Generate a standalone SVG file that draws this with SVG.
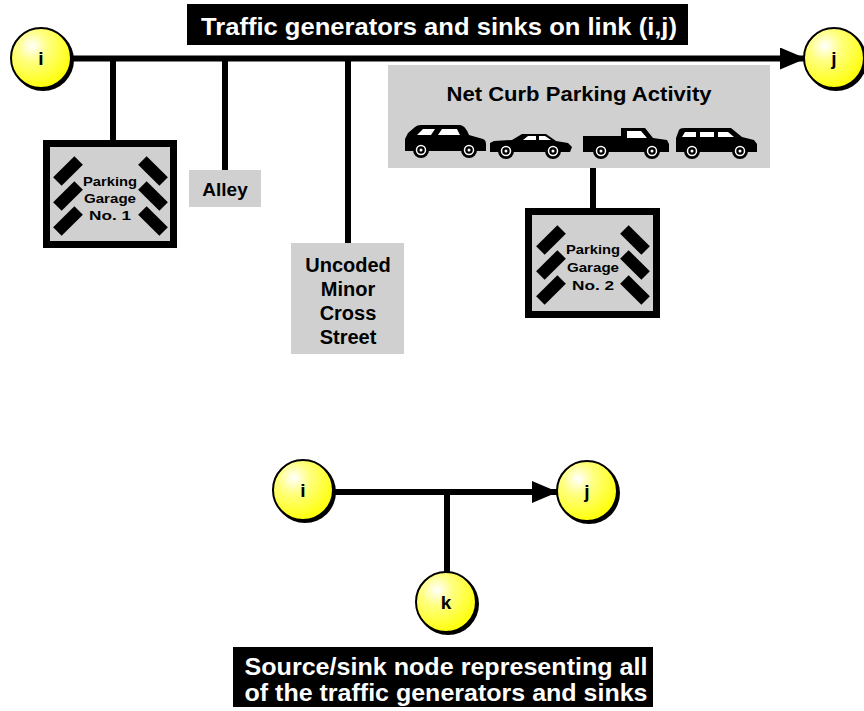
<svg xmlns="http://www.w3.org/2000/svg" width="864" height="711" viewBox="0 0 864 711">
  <defs>
    <radialGradient id="ball" cx="0.35" cy="0.3" r="0.75">
      <stop offset="0" stop-color="#ffffff"/>
      <stop offset="0.35" stop-color="#ffff80"/>
      <stop offset="1" stop-color="#ffff00"/>
    </radialGradient>
    <marker id="arrow" viewBox="0 0 26 22" refX="25" refY="11" markerWidth="26" markerHeight="22" markerUnits="userSpaceOnUse" orient="auto">
      <path d="M0,0 L26,11 L0,22 Z" fill="#000"/>
    </marker>
    <!-- hatch marks of a garage block -->
    <g id="stripesL">
      <rect x="-15" y="-6" width="30" height="12" transform="rotate(-45)" fill="#000"/>
    </g>
    <g id="stripesR">
      <rect x="-15" y="-6" width="30" height="12" transform="rotate(45)" fill="#000"/>
    </g>
    <g id="wheel">
      <circle r="8" fill="#000"/>
      <circle r="4.5" fill="none" stroke="#fff" stroke-width="1.5"/>
      <circle r="1.5" fill="#fff"/>
    </g>
  </defs>
  <style>
    .node circle.shade { fill: #000; }
    .node circle.face { fill: url(#ball); stroke: #000; stroke-width: 2; }
    .lbl { font-family: "Liberation Sans", Arial, sans-serif; font-weight: bold; text-anchor: middle; }
    .nodelbl { font-size: 19px; fill: #000; }
    .wt { fill: #fff; }
    .box { fill: #d0d0d0; }
    .link { stroke: #000; stroke-width: 6; fill: none; }
    .gtxt { font-size: 13px; }
  </style>

  <!-- heading -->
  <g id="title-top">
    <rect x="187" y="4" width="501" height="41" fill="#000"/>
    <text class="lbl wt" x="439" y="35" font-size="23" textLength="476" lengthAdjust="spacingAndGlyphs">Traffic generators and sinks on link (i,j)</text>
  </g>

  <!-- connectors -->
  <g id="connectors">
    <line class="link" x1="72" y1="58.5" x2="805" y2="58.5" marker-end="url(#arrow)"/>
    <line class="link" x1="113" y1="58" x2="113" y2="141"/>
    <line class="link" x1="225" y1="58" x2="225" y2="171"/>
    <line class="link" x1="348" y1="58" x2="348" y2="244"/>
    <line class="link" x1="593" y1="167" x2="593" y2="209"/>
    <line class="link" x1="334" y1="492" x2="557" y2="492" marker-end="url(#arrow)"/>
    <line class="link" x1="447" y1="492" x2="447" y2="573"/>
  </g>

  <!-- top nodes -->
  <g id="node-i-top" class="node">
    <circle class="shade" cx="43" cy="60" r="31"/>
    <circle class="face" cx="41" cy="58" r="30"/>
    <text class="lbl nodelbl" x="41" y="65">i</text>
  </g>
  <g id="node-j-top" class="node">
    <circle class="shade" cx="836" cy="60" r="31"/>
    <circle class="face" cx="834" cy="58" r="30"/>
    <text class="lbl nodelbl" x="834" y="65">j</text>
  </g>

  <!-- parking garage 1 -->
  <g id="garage-1">
    <rect x="43" y="140" width="134" height="108" fill="#000"/>
    <rect x="50" y="147" width="120" height="94" class="box"/>
    <use href="#stripesL" x="68" y="171"/>
    <use href="#stripesL" x="68" y="196"/>
    <use href="#stripesL" x="68" y="221"/>
    <use href="#stripesR" x="153" y="171"/>
    <use href="#stripesR" x="153" y="196"/>
    <use href="#stripesR" x="153" y="221"/>
    <text class="lbl gtxt" x="110" y="186" textLength="54" lengthAdjust="spacingAndGlyphs">Parking</text>
    <text class="lbl gtxt" x="110" y="203" textLength="52" lengthAdjust="spacingAndGlyphs">Garage</text>
    <text class="lbl gtxt" x="110" y="220" textLength="42" lengthAdjust="spacingAndGlyphs">No. 1</text>
  </g>

  <!-- alley -->
  <g id="alley">
    <rect x="189" y="170" width="72" height="37" class="box"/>
    <text class="lbl" x="225" y="196" font-size="19">Alley</text>
  </g>

  <!-- minor cross street -->
  <g id="cross-street">
    <rect x="291" y="243" width="113" height="111" class="box"/>
    <text class="lbl" x="348" y="272" font-size="20">Uncoded</text>
    <text class="lbl" x="348" y="296" font-size="20">Minor</text>
    <text class="lbl" x="348" y="320" font-size="20">Cross</text>
    <text class="lbl" x="348" y="344" font-size="20">Street</text>
  </g>

  <!-- curb parking -->
  <g id="curb-parking">
    <rect x="388" y="65" width="382" height="103" class="box"/>
    <text class="lbl" x="579" y="101" font-size="21" textLength="265" lengthAdjust="spacingAndGlyphs">Net Curb Parking Activity</text>
    <!-- sport utility -->
    <g transform="translate(405,125)">
      <path d="M0,14 L3,8 L10,2 Q12,0 16,0 L55,0 Q60,0 64,10 L78,14 Q81,15 81,19 L81,26 L0,26 Z" fill="#000"/>
      <path d="M12,10 L18,4 L30,4 L26,10 Z M33,10 L37,4 L52,4 L55,10 Z" fill="#fff"/>
      <use href="#wheel" x="16" y="25"/>
      <use href="#wheel" x="64" y="25"/>
    </g>
    <!-- sedan -->
    <g transform="translate(490,133)">
      <path d="M0,10 L4,8 L22,7 L32,1 L56,1 L66,8 L78,10 L82,14 L80,19 L0,19 Z" fill="#000"/>
      <path d="M33,7 L38,3 L46,3 L46,7 Z M49,7 L49,3 L55,3 L61,7 Z" fill="#fff"/>
      <use href="#wheel" x="16" y="18"/>
      <use href="#wheel" x="63" y="18"/>
    </g>
    <!-- pickup -->
    <g transform="translate(583,128)">
      <path d="M0,8 L38,8 L38,0 L62,0 L70,10 L84,12 L86,16 L86,24 L0,24 Z" fill="#000"/>
      <path d="M44,3 L58,3 L64,10 L44,10 Z" fill="#fff"/>
      <use href="#wheel" x="18" y="23"/>
      <use href="#wheel" x="69" y="23"/>
    </g>
    <!-- station wagon -->
    <g transform="translate(676,128)">
      <path d="M0,10 L3,2 Q4,0 8,0 L55,0 L66,9 L78,12 L81,16 L81,24 L0,24 Z" fill="#000"/>
      <path d="M6,9 L9,4 L20,4 L20,9 Z M24,9 L24,4 L38,4 L38,9 Z M42,9 L42,4 L52,4 L58,9 Z" fill="#fff"/>
      <use href="#wheel" x="16" y="23"/>
      <use href="#wheel" x="64" y="23"/>
    </g>
  </g>

  <!-- parking garage 2 -->
  <g id="garage-2">
    <rect x="525" y="208" width="135" height="110" fill="#000"/>
    <rect x="532" y="215" width="121" height="96" class="box"/>
    <use href="#stripesL" x="551" y="240"/>
    <use href="#stripesL" x="551" y="265"/>
    <use href="#stripesL" x="551" y="290"/>
    <use href="#stripesR" x="635" y="240"/>
    <use href="#stripesR" x="635" y="265"/>
    <use href="#stripesR" x="635" y="290"/>
    <text class="lbl gtxt" x="593" y="254" textLength="54" lengthAdjust="spacingAndGlyphs">Parking</text>
    <text class="lbl gtxt" x="593" y="272" textLength="52" lengthAdjust="spacingAndGlyphs">Garage</text>
    <text class="lbl gtxt" x="593" y="290" textLength="42" lengthAdjust="spacingAndGlyphs">No. 2</text>
  </g>

  <!-- simplified link -->
  <g id="node-i-bottom" class="node">
    <circle class="shade" cx="305" cy="492" r="31"/>
    <circle class="face" cx="303" cy="490" r="30"/>
    <text class="lbl nodelbl" x="303" y="497">i</text>
  </g>
  <g id="node-j-bottom" class="node">
    <circle class="shade" cx="589" cy="493" r="31"/>
    <circle class="face" cx="587" cy="491" r="30"/>
    <text class="lbl nodelbl" x="587" y="498">j</text>
  </g>
  <g id="node-k" class="node">
    <circle class="shade" cx="448" cy="604" r="31"/>
    <circle class="face" cx="446" cy="602" r="30"/>
    <text class="lbl nodelbl" x="446" y="609">k</text>
  </g>

  <!-- caption -->
  <g id="caption">
    <rect x="233" y="647" width="420" height="60" fill="#000"/>
    <text class="lbl wt" x="446" y="675" font-size="24" textLength="403" lengthAdjust="spacingAndGlyphs">Source/sink node representing all</text>
    <text class="lbl wt" x="446" y="701" font-size="24" textLength="403" lengthAdjust="spacingAndGlyphs">of the traffic generators and sinks</text>
  </g>
</svg>
